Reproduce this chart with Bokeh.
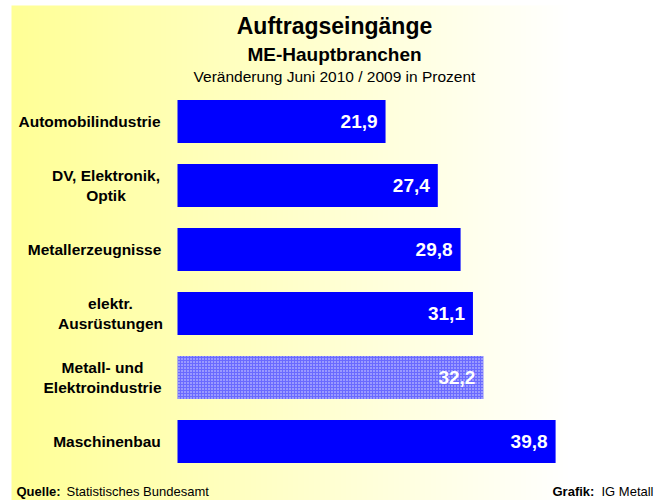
import numpy as np
from bokeh.plotting import figure
from bokeh.models import Range1d, ColumnDataSource
from bokeh.core.properties import value
from bokeh.embed import file_html
from bokeh.resources import INLINE

# ---- data ----
categories = ["Automobilindustrie", "DV, Elektronik,\nOptik", "Metallerzeugnisse",
              "elektr.\nAusrüstungen", "Metall- und\nElektroindustrie", "Maschinenbau"]
values = [21.9, 27.4, 29.8, 31.1, 32.2, 39.8]
highlight = [False, False, False, False, True, False]
title = "Auftragseingänge"
subtitle = "ME-Hauptbranchen"
note = "Veränderung Juni 2010 / 2009 in Prozent"

# ---- layout ----
W, H = 665, 500
SX = 9.5            # px per percent
SY = 64.0           # px per category
X0 = -177 / SX
Y0 = -121 / SY
FONT = value("Liberation Sans")

def dx(px):
    return X0 + px / SX

def dy(py):
    return Y0 + py / SY

p = figure(width=W, height=H, output_backend="svg", toolbar_location=None,
           x_range=Range1d(X0, X0 + W / SX), y_range=Range1d(Y0 + H / SY, Y0),
           min_border=0, x_axis_location=None, y_axis_location=None)
p.grid.visible = False
p.outline_line_color = None
p.background_fill_color = "white"
p.border_fill_color = "white"

# background gradient (yellow -> white), starting at px 11 / 5
gx0, gy0 = 11, 5
n = W - gx0
t = np.clip(np.arange(n) / (n * 0.85), 0, 1)
img = np.zeros((1, n), dtype=np.uint32)
view = img.view(dtype=np.uint8).reshape((1, n, 4))
view[0, :, 0] = 255
view[0, :, 1] = 255
view[0, :, 2] = (150 + (255 - 150) * t).astype(np.uint8)
view[0, :, 3] = 255
p.image_rgba(image=[img], x=dx(gx0), y=dy(gy0), dw=(W - gx0) / SX, dh=(H - gy0) / SY)

idx = list(range(len(categories)))
labels = [f"{v:.1f}".replace(".", ",") for v in values]
src_n = ColumnDataSource(dict(y=[i for i in idx if not highlight[i]],
                              v=[values[i] for i in idx if not highlight[i]]))
src_h = ColumnDataSource(dict(y=[i for i in idx if highlight[i]],
                              v=[values[i] for i in idx if highlight[i]]))

p.hbar(y="y", left=0, right="v", height=0.672, source=src_n,
       fill_color="#0000FF", line_color=None)
p.hbar(y="y", left=0, right="v", height=0.672, source=src_h,
       fill_color="#6A6AFF", line_color=None,
       hatch_pattern="dot", hatch_color="white", hatch_scale=3, hatch_weight=1.5,
       hatch_alpha=0.8)

p.text(x=values, y=idx, text=labels, x_offset=-8, text_align="right",
       text_baseline="middle", text_color="white", text_font=FONT,
       text_font_style="bold", text_font_size="19px")

# category labels (block right edge ~163px, lines centred)
label_cx = [89, 105.5, 94, 110, 102, 106.5]
p.text(x=[dx(c) for c in label_cx], y=idx, text=categories, text_align="center",
       text_baseline="middle", text_color="black", text_font=FONT,
       text_font_style="bold", text_font_size="15.5px", text_line_height=1.15)

# titles
p.text(x=[dx(334)], y=[dy(25)], text=[title], text_align="center", text_baseline="middle",
       text_font=FONT, text_font_style="bold", text_font_size="23px", text_color="black")
p.text(x=[dx(334)], y=[dy(54)], text=[subtitle], text_align="center", text_baseline="middle",
       text_font=FONT, text_font_style="bold", text_font_size="19px", text_color="black")
p.text(x=[dx(334)], y=[dy(75.5)], text=[note], text_align="center", text_baseline="middle",
       text_font=FONT, text_font_size="15.5px", text_color="black")

# footer
p.text(x=[dx(16), dx(552)], y=[dy(491), dy(491)], text=["Quelle:", "Grafik:"],
       text_align="left", text_baseline="middle", text_font=FONT,
       text_font_style="bold", text_font_size="13px", text_color="black")
p.text(x=[dx(66), dx(601)], y=[dy(491), dy(491)],
       text=["Statistisches Bundesamt", "IG Metall"],
       text_align="left", text_baseline="middle", text_font=FONT,
       text_font_size="13px", text_color="black")

open("out.html", "w").write(file_html(p, INLINE))
